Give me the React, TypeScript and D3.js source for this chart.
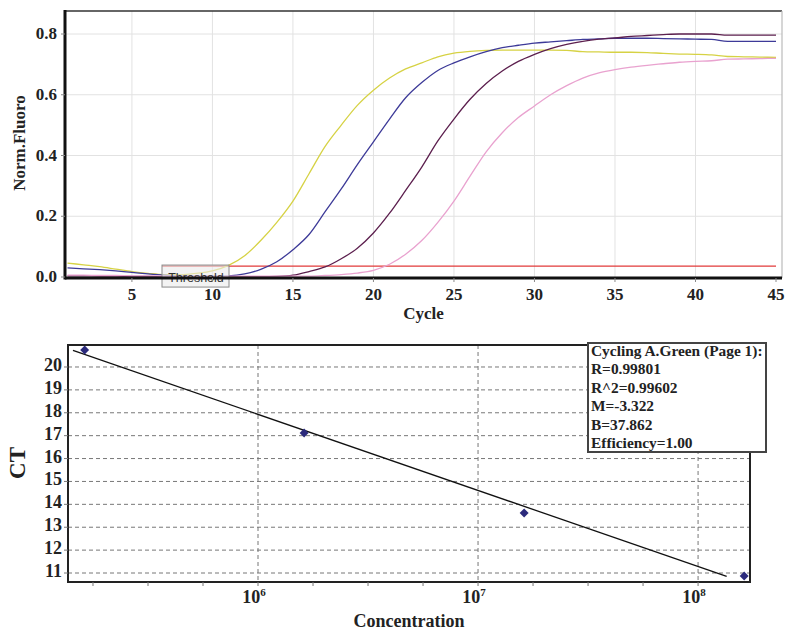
import React from 'react';
import * as d3 from 'd3';

const W = 789;
const H = 642;

// amplification curves, Norm.Fluoro per cycle 1..45
const cycles = d3.range(1, 46);
const yellowCurve = [
  0.046, 0.040, 0.034, 0.026, 0.018, 0.012, 0.008, 0.008, 0.012, 0.020,
  0.038, 0.070, 0.120, 0.180, 0.250, 0.340, 0.430, 0.500, 0.565, 0.615,
  0.655, 0.685, 0.705, 0.725, 0.737, 0.743, 0.746, 0.747, 0.747, 0.747,
  0.747, 0.746, 0.742, 0.741, 0.740, 0.740, 0.739, 0.736, 0.734, 0.733,
  0.731, 0.726, 0.725, 0.724, 0.723
];
const blueCurve = [
  0.030, 0.027, 0.024, 0.020, 0.015, 0.010, 0.006, 0.004, 0.003, 0.003,
  0.004, 0.010, 0.025, 0.050, 0.090, 0.140, 0.215, 0.290, 0.370, 0.445,
  0.520, 0.590, 0.640, 0.680, 0.705, 0.725, 0.742, 0.755, 0.763, 0.770,
  0.774, 0.778, 0.782, 0.784, 0.786, 0.786, 0.786, 0.785, 0.784, 0.783,
  0.782, 0.776, 0.776, 0.776, 0.776
];
const maroonCurve = [
  0.004, 0.004, 0.003, 0.003, 0.002, 0.002, 0.001, 0.001, 0.001, 0.001,
  0.001, 0.001, 0.001, 0.002, 0.006, 0.018, 0.033, 0.060, 0.095, 0.145,
  0.210, 0.285, 0.362, 0.448, 0.520, 0.585, 0.637, 0.678, 0.710, 0.733,
  0.752, 0.766, 0.776, 0.783, 0.787, 0.792, 0.795, 0.798, 0.800, 0.800,
  0.800, 0.796, 0.796, 0.796, 0.796
];
const pinkCurve = [
  0.006, 0.006, 0.005, 0.005, 0.004, 0.004, 0.003, 0.003, 0.003, 0.003,
  0.003, 0.003, 0.003, 0.003, 0.003, 0.003, 0.005, 0.008, 0.013, 0.022,
  0.042, 0.075, 0.120, 0.180, 0.250, 0.332, 0.412, 0.475, 0.525, 0.563,
  0.600, 0.630, 0.655, 0.672, 0.683, 0.691, 0.697, 0.702, 0.707, 0.710,
  0.712, 0.717, 0.718, 0.719, 0.720
];
const curveColors = ['#d6d244', '#3d3a98', '#5c1f4e', '#e9a2cf'];
const threshold = 0.036;
const cycleTicks = [5, 10, 15, 20, 25, 30, 35, 40, 45];
const fluoroTicks = [0, 0.2, 0.4, 0.6, 0.8];

// standard curve
const concentrations = [1.63e5, 1.62e6, 1.62e7, 1.62e8];
const ctValues = [20.74, 17.12, 13.62, 10.87];
const slopeM = -3.322;
const interceptB = 37.862;
const fitLogRange = [5.159, 8.13];
const ctTicks = [11, 12, 13, 14, 15, 16, 17, 18, 19, 20];
const decadeTicks = [6, 7, 8];
const legendLines = [
  'Cycling A.Green (Page 1):',
  'R=0.99801',
  'R^2=0.99602',
  'M=-3.322',
  'B=37.862',
  'Efficiency=1.00'
];

const serif = "'Liberation Serif', 'DejaVu Serif', serif";

function TopChart () {
  const left = 65, right = 782, top = 11, bottom = 278;
  const x = d3.scaleLinear().domain([1, 45]).range([67.5, 776]);
  const y = d3.scaleLinear().domain([0, 0.8]).range([277, 34]);
  const line = d3.line<number>()
    .x((_, i) => x(cycles[i]))
    .y(d => y(d))
    .curve(d3.curveMonotoneX);
  const series = [yellowCurve, blueCurve, maroonCurve, pinkCurve];
  return (
    <g>
      <rect x={left} y={top} width={right - left} height={bottom - top} fill="#fff" />
      {cycleTicks.slice(0, -1).map(t => (
        <line key={'gx' + t} x1={x(t)} x2={x(t)} y1={top} y2={bottom} stroke="#e2e2e2" />
      ))}
      {fluoroTicks.slice(1).map(t => (
        <line key={'gy' + t} x1={left} x2={right} y1={y(t)} y2={y(t)} stroke="#e2e2e2" />
      ))}
      {/* threshold marker */}
      <line x1={162} x2={x(45)} y1={y(threshold)} y2={y(threshold)} stroke="#e23a3a" strokeWidth={1.3} />
      {series.map((s, i) => (
        <path key={i} d={line(s) || ''} fill="none" stroke={curveColors[i]} strokeWidth={1.3} />
      ))}
      <rect x={162} y={y(threshold) - 1} width={67} height={22} fill="rgba(235,235,235,0.6)" stroke="#8a8a8a" strokeWidth={1} />
      <text x={196} y={y(threshold) + 16} textAnchor="middle" fontFamily="'Liberation Sans', Arial, sans-serif"
        fontSize={12.5} fill="#333">Threshold</text>
      {/* frame */}
      <line x1={left} x2={right} y1={top} y2={top} stroke="#333" strokeWidth={1.5} />
      <line x1={right} x2={right} y1={top} y2={bottom} stroke="#bbb" strokeWidth={1.2} />
      <line x1={left} x2={left} y1={top - 1} y2={bottom + 1.5} stroke="#111" strokeWidth={3} />
      <line x1={left} x2={right} y1={bottom} y2={bottom} stroke="#111" strokeWidth={3} />
      {cycleTicks.map(t => (
        <g key={'tx' + t}>
          <line x1={x(t)} x2={x(t)} y1={bottom} y2={bottom + 4} stroke="#888" />
          <text x={x(t)} y={300} textAnchor="middle" style={{ fontFamily: serif }} fontWeight="bold" fontSize={17} fill="#222">{t}</text>
        </g>
      ))}
      {fluoroTicks.map(t => (
        <g key={'ty' + t}>
          <line x1={left - 4} x2={left} y1={y(t)} y2={y(t)} stroke="#888" />
          <text x={57} y={y(t) + 5} textAnchor="end" style={{ fontFamily: serif }} fontWeight="bold" fontSize={17} fill="#222">{t.toFixed(1)}</text>
        </g>
      ))}
      <text x={(left + right) / 2} y={319} textAnchor="middle" style={{ fontFamily: serif }} fontWeight="bold" fontSize={17} fill="#222">Cycle</text>
      <text transform={`translate(25,${143}) rotate(-90)`} textAnchor="middle" style={{ fontFamily: serif }} fontWeight="bold" fontSize={17} fill="#222">Norm.Fluoro</text>
    </g>
  );
}

function BottomChart () {
  const left = 68, right = 750, top = 345, bottom = 582;
  const x = d3.scaleLog().domain([1.369e5, 1.722e8]).range([left, right]);
  const y = d3.scaleLinear().domain([10.607, 20.961]).range([bottom, top]);
  const minorTicks = d3.range(5.25, 8.3, 0.25).map(p => Math.pow(10, p)).filter(v => x(v) > left && x(v) < right);
  const fit = d3.line<number>()
    .x(p => x(Math.pow(10, p)))
    .y(p => y(slopeM * p + interceptB));
  const marker = d3.symbol().type(d3.symbolSquare).size(40)();
  return (
    <g>
      <rect x={left} y={top} width={right - left} height={bottom - top} fill="#fff" />
      {ctTicks.map(t => (
        <line key={'gy' + t} x1={left} x2={right} y1={y(t)} y2={y(t)} stroke="#777" strokeDasharray="4,3" />
      ))}
      {decadeTicks.map(p => (
        <line key={'gx' + p} x1={x(Math.pow(10, p))} x2={x(Math.pow(10, p))} y1={top} y2={bottom} stroke="#777" strokeDasharray="4,3" />
      ))}
      <path d={fit(fitLogRange) || ''} fill="none" stroke="#111" strokeWidth={1.3} />
      {concentrations.map((c, i) => (
        <path key={i} d={marker || ''} transform={`translate(${x(c)},${y(ctValues[i])}) rotate(45)`} fill="#2b2a7c" />
      ))}
      {/* frame */}
      <rect x={left} y={top} width={right - left} height={bottom - top} fill="none" stroke="#222" strokeWidth={2} />
      {minorTicks.map((v, i) => (
        <line key={'mt' + i} x1={x(v)} x2={x(v)} y1={bottom} y2={bottom + 4} stroke="#777" />
      ))}
      {ctTicks.map(t => (
        <g key={'ty' + t}>
          <line x1={left - 4} x2={left} y1={y(t)} y2={y(t)} stroke="#777" />
          <text x={62} y={y(t) + 4} textAnchor="end" style={{ fontFamily: serif }} fontWeight="bold" fontSize={18} fill="#222">{t}</text>
        </g>
      ))}
      {decadeTicks.map(p => (
        <text key={'tx' + p} x={x(Math.pow(10, p)) - 4} y={603} textAnchor="middle" style={{ fontFamily: serif }} fontWeight="bold" fontSize={18} fill="#222">
          10<tspan fontSize={11} dy={-7}>{p}</tspan>
        </text>
      ))}
      <text x={(left + right) / 2} y={627} textAnchor="middle" style={{ fontFamily: serif }} fontWeight="bold" fontSize={18} fill="#222">Concentration</text>
      <text transform={`translate(25,${463}) rotate(-90)`} textAnchor="middle" style={{ fontFamily: serif }} fontWeight="bold" fontSize={23} fill="#222">CT</text>
      {/* regression summary box */}
      <rect x={588} y={343} width={178} height={109} fill="#fff" stroke="#444" strokeWidth={2} />
      {legendLines.map((s, i) => (
        <text key={i} x={591} y={356 + i * 18.4} style={{ fontFamily: serif }} fontWeight="bold" fontSize={15.4} fill="#222">{s}</text>
      ))}
    </g>
  );
}

export default function App () {
  return (
    <svg width={W} height={H} style={{ position: 'absolute', left: 0, top: 0, background: '#fff' }}>
      <TopChart />
      <BottomChart />
    </svg>
  );
}
